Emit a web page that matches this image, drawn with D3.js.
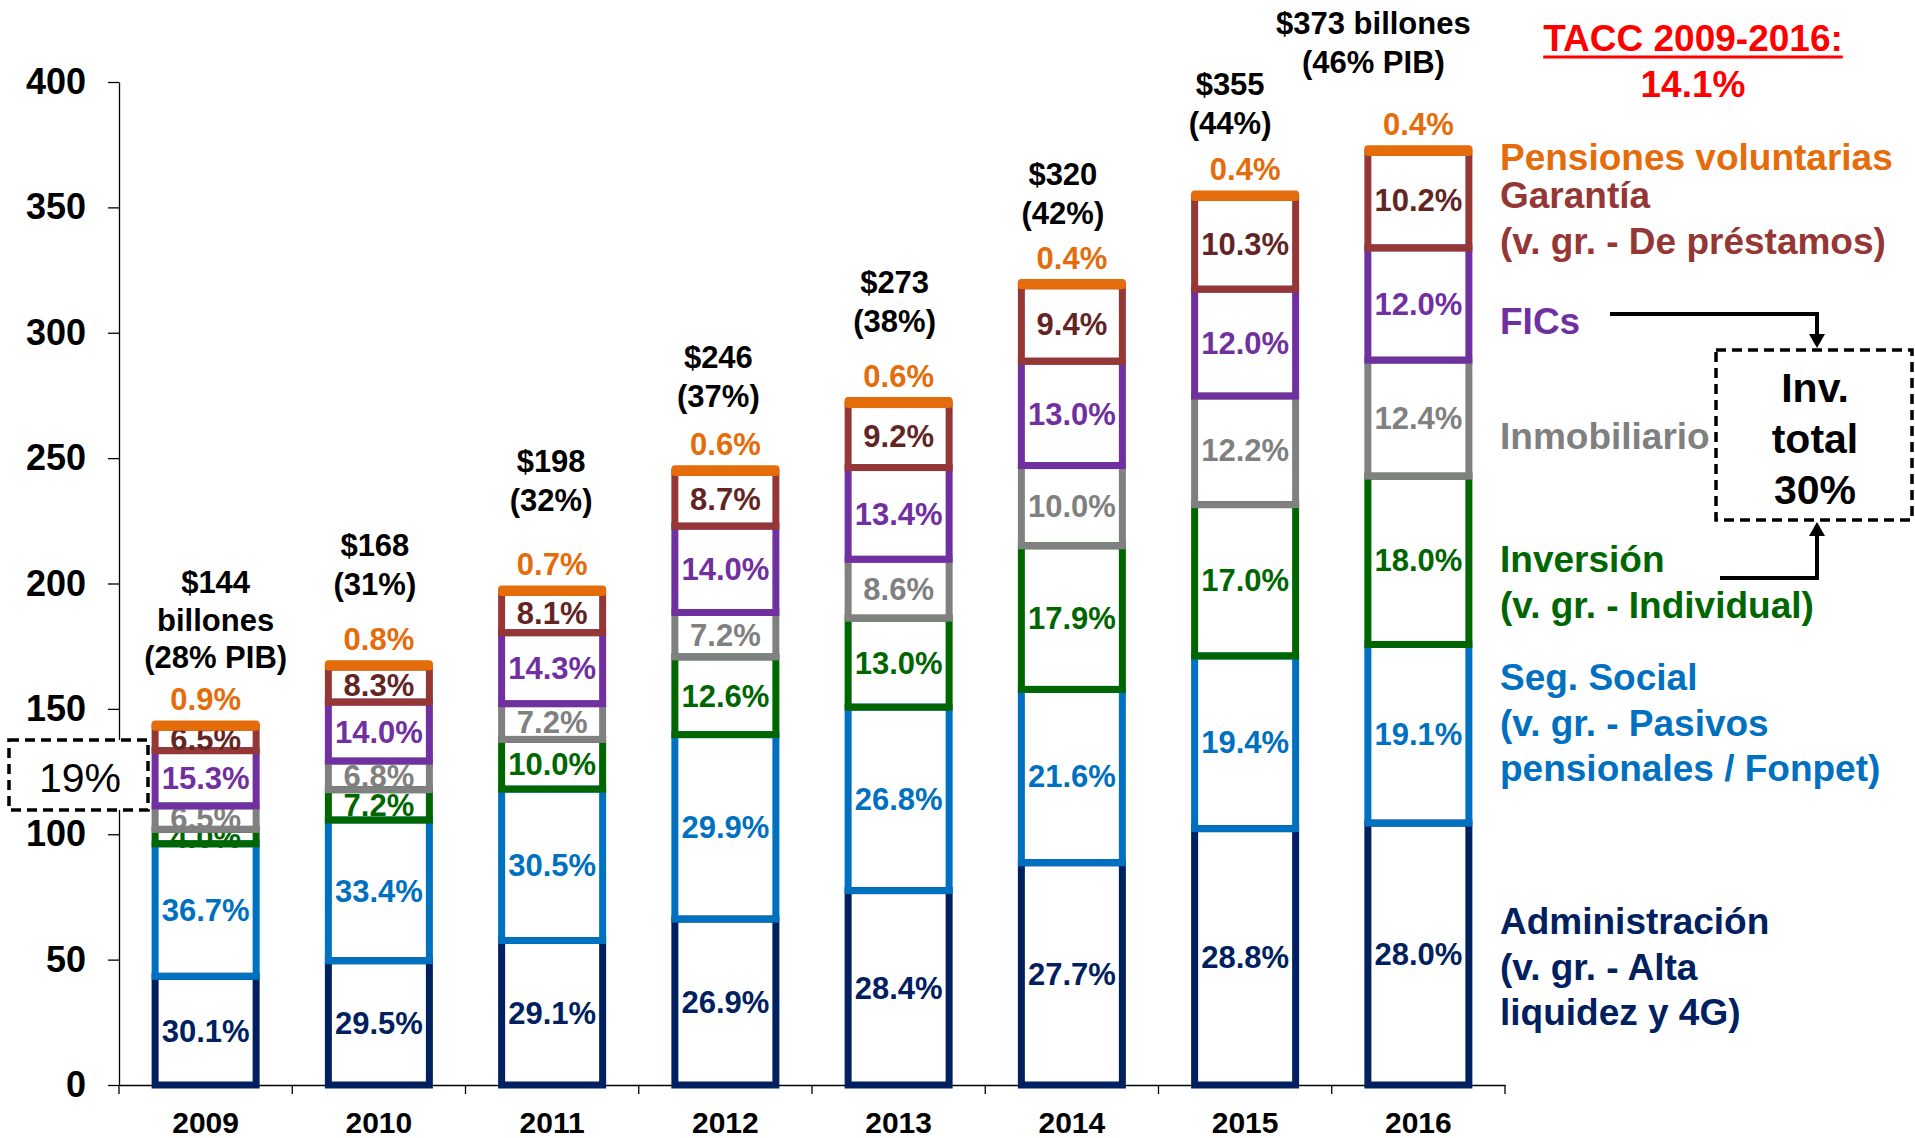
<!DOCTYPE html>
<html>
<head>
<meta charset="utf-8">
<script src="https://cdn.jsdelivr.net/npm/d3@7"></script>
<style>
  body { margin: 0; background: #fff; }
  svg { display: block; font-family: "Liberation Sans", Arial, sans-serif; font-weight: bold; }
</style>
</head>
<body>
<svg id="chart" width="1915" height="1138"></svg>
<script>
var years = ["2009", "2010", "2011", "2012", "2013", "2014", "2015", "2016"];
var totals = [144, 168, 198, 246, 273, 320, 355, 373];   // billones
var pibShare = [28, 31, 32, 37, 38, 42, 44, 46];        // % del PIB

// participacion de cada tipo de fondo (%), de abajo hacia arriba
var administracion = [30.1, 29.5, 29.1, 26.9, 28.4, 27.7, 28.8, 28.0];
var segSocial = [36.7, 33.4, 30.5, 29.9, 26.8, 21.6, 19.4, 19.1];
var inversion = [4.0, 7.2, 10.0, 12.6, 13.0, 17.9, 17.0, 18.0];
var inmobiliario = [6.5, 6.8, 7.2, 7.2, 8.6, 10.0, 12.2, 12.4];
var fics = [15.3, 14.0, 14.3, 14.0, 13.4, 13.0, 12.0, 12.0];
var garantia = [6.5, 8.3, 8.1, 8.7, 9.2, 9.4, 10.3, 10.2];
var pensionesVol = [0.9, 0.8, 0.7, 0.6, 0.6, 0.4, 0.4, 0.4];

var yTicks = [0, 50, 100, 150, 200, 250, 300, 350, 400];

var series = [
  {name: "adm", values: administracion, stroke: "#002060", text: "#002060",
   legend: ["Administración", "(v. gr. - Alta", "liquidez y 4G)"], legendY: 921},
  {name: "ss", values: segSocial, stroke: "#0070C0", text: "#0070C0",
   legend: ["Seg. Social", "(v. gr. - Pasivos", "pensionales / Fonpet)"], legendY: 677},
  {name: "inv", values: inversion, stroke: "#006600", text: "#006600",
   legend: ["Inversión", "(v. gr. - Individual)"], legendY: 559},
  {name: "inm", values: inmobiliario, stroke: "#808080", text: "#808080",
   legend: ["Inmobiliario"], legendY: 436},
  {name: "fics", values: fics, stroke: "#7030A0", text: "#7030A0",
   legend: ["FICs"], legendY: 321},
  {name: "gar", values: garantia, stroke: "#953735", text: "#632523",
   legend: ["Garantía", "(v. gr. - De préstamos)"], legendY: 195},
  {name: "pv", values: pensionesVol, stroke: "#E46C0A", text: "#E46C0A",
   legend: ["Pensiones voluntarias"], legendY: 157}
];

// small nudges of the total labels above each bar [dx, dy of last line], px
var totalLabelShift = [[10, -67], [-4, -80], [-1, -89], [-7, -72], [-4, -80], [-9, -70], [-15, -72], [-45, -88]];

function buildSegments(){
  var segs = [];
  years.forEach(function(year, i){
    var base = 0;
    series.forEach(function(s){
      var v = totals[i] * s.values[i] / 100;
      segs.push({year: year, serie: s, pct: s.values[i], y0: base, y1: base + v});
      base += v;
    });
  });
  return segs;
}

function drawChart(){
  var svg = d3.select("#chart");
  var x = d3.scaleBand().domain(years).range([119, 1505]);
  var y = d3.scaleLinear().domain([0, 400]).range([1085, 82]);
  var barW = x.bandwidth() * 0.583;

  // y axis
  svg.append("g")
     .attr("transform", "translate(119,0)")
     .call(d3.axisLeft(y).tickValues(yTicks).tickSize(11).tickSizeOuter(0).tickPadding(22))
     .call(function(g){ g.select(".domain").attr("stroke", "#000").attr("stroke-width", 1.3); })
     .call(function(g){ g.selectAll(".tick line").attr("stroke", "#000").attr("stroke-width", 1.3); })
     .selectAll("text")
     .attr("fill", "#000")
     .style("font-family", "'Liberation Sans', Arial, sans-serif")
     .style("font-size", "36px")
     .style("font-weight", "bold");

  // x axis: labels centered, ticks between categories
  var xAxis = svg.append("g")
     .attr("transform", "translate(0,1085)")
     .call(d3.axisBottom(x).tickSize(0).tickPadding(27))
     .call(function(g){ g.select(".domain").attr("stroke", "#000").attr("stroke-width", 1.3); });
  xAxis.selectAll("text")
     .attr("fill", "#000")
     .style("font-family", "'Liberation Sans', Arial, sans-serif")
     .style("font-size", "30px")
     .style("font-weight", "bold");
  xAxis.selectAll(".sep")
     .data(years.map(function(d){ return x(d); }).concat([x.range()[1]]))
     .enter().append("line")
     .attr("class", "sep")
     .attr("x1", function(d){ return d; })
     .attr("x2", function(d){ return d; })
     .attr("y1", 0).attr("y2", 9)
     .attr("stroke", "#000").attr("stroke-width", 1.3);

  // stacked bars: each segment outlined, label drawn right after its box
  var segs = buildSegments();
  var seg = svg.append("g").selectAll(".seg")
     .data(segs)
     .enter().append("g")
     .attr("class", "seg");

  seg.append("rect")
     .attr("x", function(d){ return x(d.year) + (x.bandwidth() - barW) / 2; })
     .attr("y", function(d){ return y(d.y1); })
     .attr("width", barW)
     .attr("height", function(d){ return y(d.y0) - y(d.y1); })
     .attr("fill", "none")
     .attr("stroke", function(d){ return d.serie.stroke; })
     .attr("stroke-width", 7)
     .attr("stroke-linejoin", function(d){ return d.serie.name == "pv" ? "round" : "miter"; });

  seg.filter(function(d){ return d.serie.name != "pv"; })
     .append("text")
     .attr("x", function(d){ return x(d.year) + x.bandwidth() / 2; })
     .attr("y", function(d){ return y((d.y0 + d.y1) / 2); })
     .attr("dy", "0.36em")
     .attr("text-anchor", "middle")
     .attr("fill", function(d){ return d.serie.text; })
     .style("font-size", "31px")
     .text(function(d){ return d.pct.toFixed(1) + "%"; });

  // pensiones voluntarias share above the bar
  seg.filter(function(d){ return d.serie.name == "pv"; })
     .append("text")
     .attr("x", function(d){ return x(d.year) + x.bandwidth() / 2; })
     .attr("y", function(d){ return y(d.y1) - 25; })
     .attr("dy", "0.36em")
     .attr("text-anchor", "middle")
     .attr("fill", function(d){ return d.serie.text; })
     .style("font-size", "31px")
     .text(function(d){ return d.pct.toFixed(1) + "%"; });

  // total labels
  years.forEach(function(year, i){
    var lines;
    if(i == 0) lines = ["$" + totals[i], "billones", "(" + pibShare[i] + "% PIB)"];
    else if(i == years.length - 1) lines = ["$" + totals[i] + " billones", "(" + pibShare[i] + "% PIB)"];
    else lines = ["$" + totals[i], "(" + pibShare[i] + "%)"];
    var cx = x(year) + x.bandwidth() / 2 + totalLabelShift[i][0];
    var lastY = y(totals[i]) + totalLabelShift[i][1];
    var step = i == 0 ? 37.5 : 39;
    svg.append("g").selectAll("text")
       .data(lines)
       .enter().append("text")
       .attr("x", cx)
       .attr("y", function(d, k){ return lastY - (lines.length - 1 - k) * step; })
       .attr("dy", "0.36em")
       .attr("text-anchor", "middle")
       .attr("fill", "#000")
       .style("font-size", "31px")
       .text(function(d){ return d; });
  });

  // legend on the right
  series.forEach(function(s){
    svg.append("g").selectAll("text")
       .data(s.legend)
       .enter().append("text")
       .attr("x", 1500)
       .attr("y", function(d, k){ return s.legendY + k * 45.5; })
       .attr("dy", "0.36em")
       .attr("fill", s.name == "gar" ? "#953735" : s.stroke)
       .style("font-size", "37px")
       .text(function(d){ return d; });
  });

  // TACC title
  var tacc = svg.append("text")
     .attr("x", 1693).attr("y", 38).attr("dy", "0.36em")
     .attr("text-anchor", "middle")
     .attr("fill", "#FF0000")
     .style("font-size", "37px")
     .text("TACC 2009-2016:");
  var bb = tacc.node().getBBox();
  svg.append("line")
     .attr("x1", bb.x).attr("x2", bb.x + bb.width)
     .attr("y1", 57).attr("y2", 57)
     .attr("stroke", "#FF0000").attr("stroke-width", 3);
  svg.append("text")
     .attr("x", 1693).attr("y", 84).attr("dy", "0.36em")
     .attr("text-anchor", "middle")
     .attr("fill", "#FF0000")
     .style("font-size", "37px")
     .text("14.1%");

  // dashed boxes
  svg.append("rect")
     .attr("x", 9).attr("y", 740).attr("width", 139).attr("height", 70)
     .attr("fill", "#fff").attr("stroke", "#000")
     .attr("stroke-width", 3.5).attr("stroke-dasharray", "10,6");
  svg.append("text")
     .attr("x", 80).attr("y", 777).attr("dy", "0.36em")
     .attr("text-anchor", "middle")
     .attr("fill", "#000")
     .style("font-size", "41px").style("font-weight", "normal")
     .text("19%");

  svg.append("rect")
     .attr("x", 1716).attr("y", 350).attr("width", 196).attr("height", 170)
     .attr("fill", "none").attr("stroke", "#000")
     .attr("stroke-width", 3.5).attr("stroke-dasharray", "10,6");
  svg.append("g").selectAll("text")
     .data(["Inv.", "total", "30%"])
     .enter().append("text")
     .attr("x", 1815)
     .attr("y", function(d, k){ return 387 + k * 51; })
     .attr("dy", "0.36em")
     .attr("text-anchor", "middle")
     .attr("fill", "#000")
     .style("font-size", "41px")
     .text(function(d){ return d; });

  // arrows into the box
  svg.append("path")
     .attr("d", "M1610,314 H1817 V336")
     .attr("fill", "none").attr("stroke", "#000").attr("stroke-width", 4);
  svg.append("path")
     .attr("d", "M1809,334 L1825,334 L1817,348 Z").attr("fill", "#000");
  svg.append("path")
     .attr("d", "M1720,578 H1817 V534")
     .attr("fill", "none").attr("stroke", "#000").attr("stroke-width", 4);
  svg.append("path")
     .attr("d", "M1809,536 L1825,536 L1817,522 Z").attr("fill", "#000");
}

drawChart();
</script>
</body>
</html>
